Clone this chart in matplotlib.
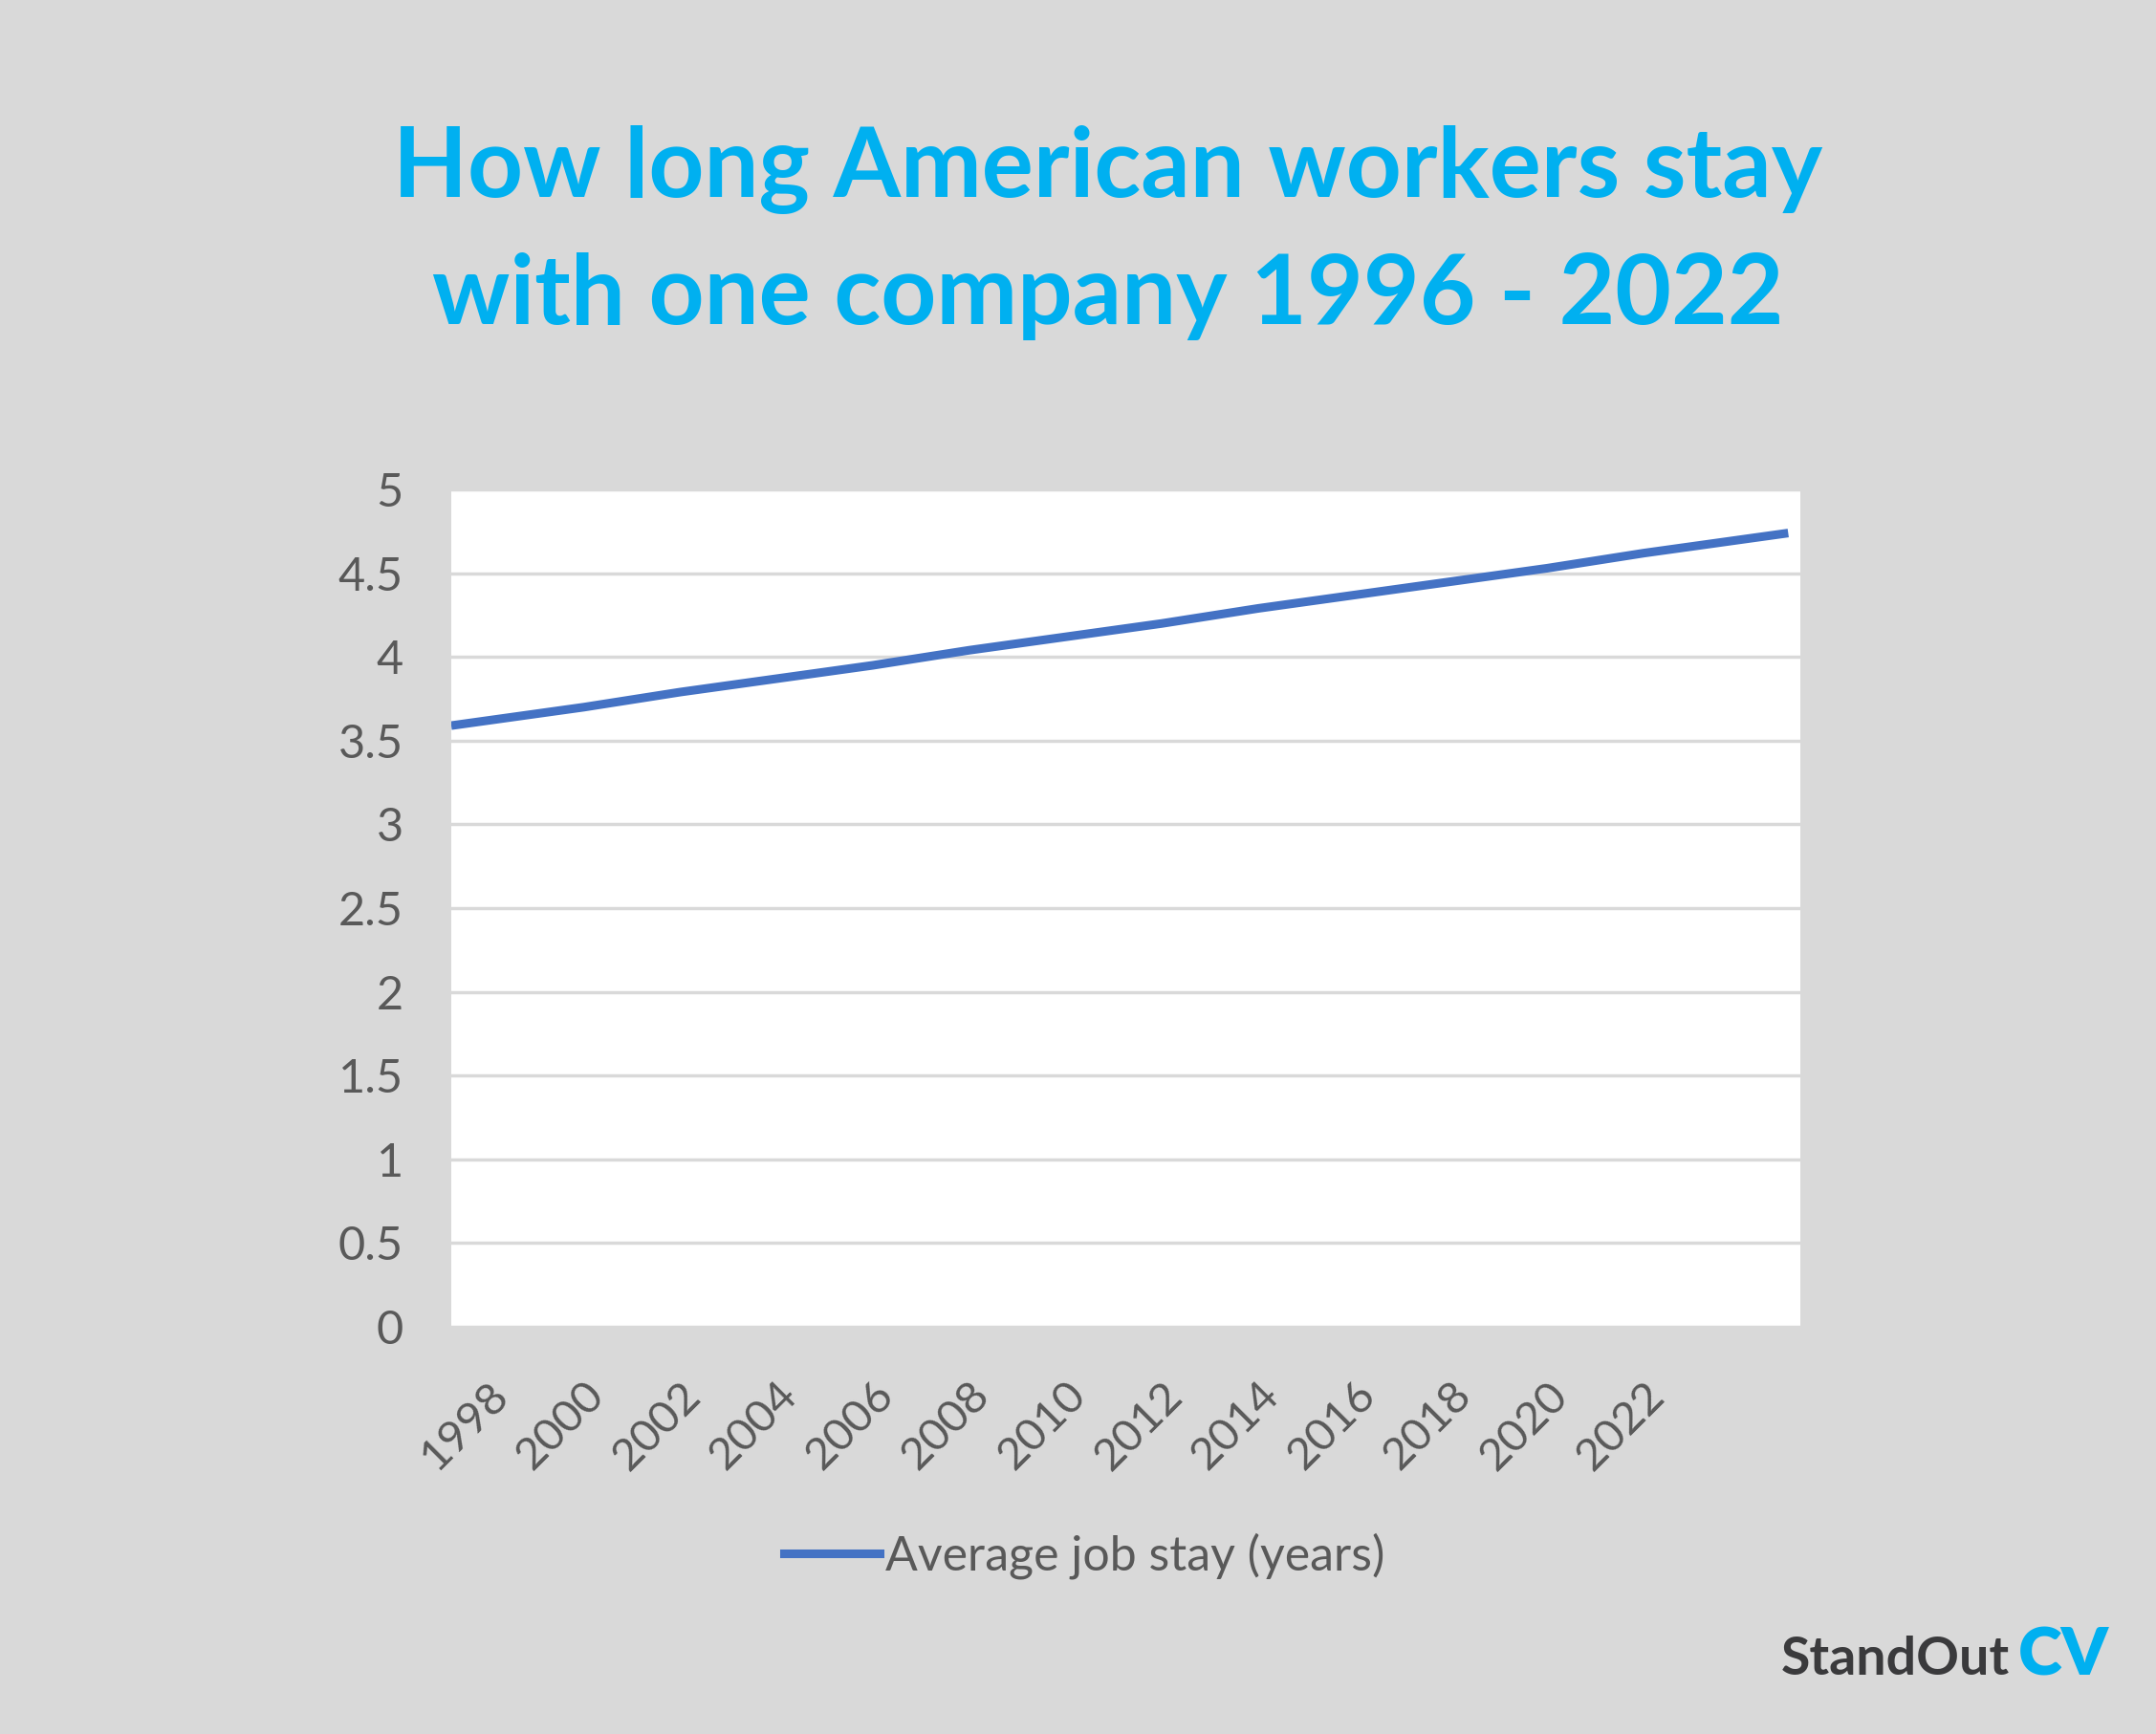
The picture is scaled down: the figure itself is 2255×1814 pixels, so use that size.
import matplotlib

matplotlib.use("Agg")

import matplotlib.pyplot as plt
from matplotlib.lines import Line2D

BG = "#D9D9D9"
BLUE_TITLE = "#00B0F0"
LINE_BLUE = "#4472C4"
TEXT_GREY = "#595959"

# x labels shown under the chart
tick_years = [1998, 2000, 2002, 2004, 2006, 2008, 2010, 2012, 2014, 2016, 2018, 2020, 2022]

# line readings (the line runs edge to edge of the plot area)
line_years = [1997.25, 1998, 2000, 2002, 2004, 2006, 2008, 2010, 2012, 2014, 2016, 2018, 2020, 2022, 2025.0]
avg_stay = [3.59, 3.62, 3.70, 3.79, 3.87, 3.95, 4.04, 4.12, 4.20, 4.29, 4.37, 4.45, 4.53, 4.62, 4.74]

y_ticks = [0, 0.5, 1, 1.5, 2, 2.5, 3, 3.5, 4, 4.5, 5]
y_labels = ["0", "0.5", "1", "1.5", "2", "2.5", "3", "3.5", "4", "4.5", "5"]

plt.rcParams["font.family"] = ["Lato", "DejaVu Sans"]

fig = plt.figure(figsize=(22.55, 18.14), dpi=100, facecolor=BG)
ax = fig.add_axes([0.2093, 0.2349, 0.6257, 0.4828])
ax.set_facecolor("white")

ax.plot(line_years, avg_stay, color=LINE_BLUE, linewidth=6.5, solid_capstyle="butt")

ax.set_xlim(1997.25, 2025.25)
ax.set_ylim(0, 5)
ax.set_yticks(y_ticks)
ax.set_yticklabels(y_labels)
ax.set_xticks(tick_years)
ax.set_xticklabels([str(y) for y in tick_years], rotation=45, ha="right", rotation_mode="anchor")

ax.grid(axis="y", color=BG, linewidth=2.5)
ax.set_axisbelow(True)
for spine in ax.spines.values():
    spine.set_visible(False)
ax.tick_params(axis="both", length=0, colors=TEXT_GREY)
ax.tick_params(axis="y", pad=36, labelsize=35)
ax.tick_params(axis="x", pad=36, labelsize=34)

fig.text(0.514, 0.902, "How long American workers stay", ha="center", va="center",
         fontsize=73, fontweight="bold", color=BLUE_TITLE)
fig.text(0.514, 0.829, "with one company 1996 - 2022", ha="center", va="center",
         fontsize=73, fontweight="bold", color=BLUE_TITLE)

handle = Line2D([], [], color=LINE_BLUE, linewidth=6.5)
fig.legend([handle], ["Average job stay (years)"], loc="center", bbox_to_anchor=(0.503, 0.103),
           frameon=False, fontsize=36, labelcolor=TEXT_GREY, handlelength=2.0, handletextpad=0.12)

fig.text(0.932, 0.034, "StandOut", ha="right", va="baseline", fontsize=40,
         fontweight="bold", color="#3A3A3C")
fig.text(0.936, 0.034, "CV", ha="left", va="baseline", fontsize=50,
         fontweight="heavy", color=BLUE_TITLE)

fig.savefig("out.png", dpi=100, facecolor=BG)
